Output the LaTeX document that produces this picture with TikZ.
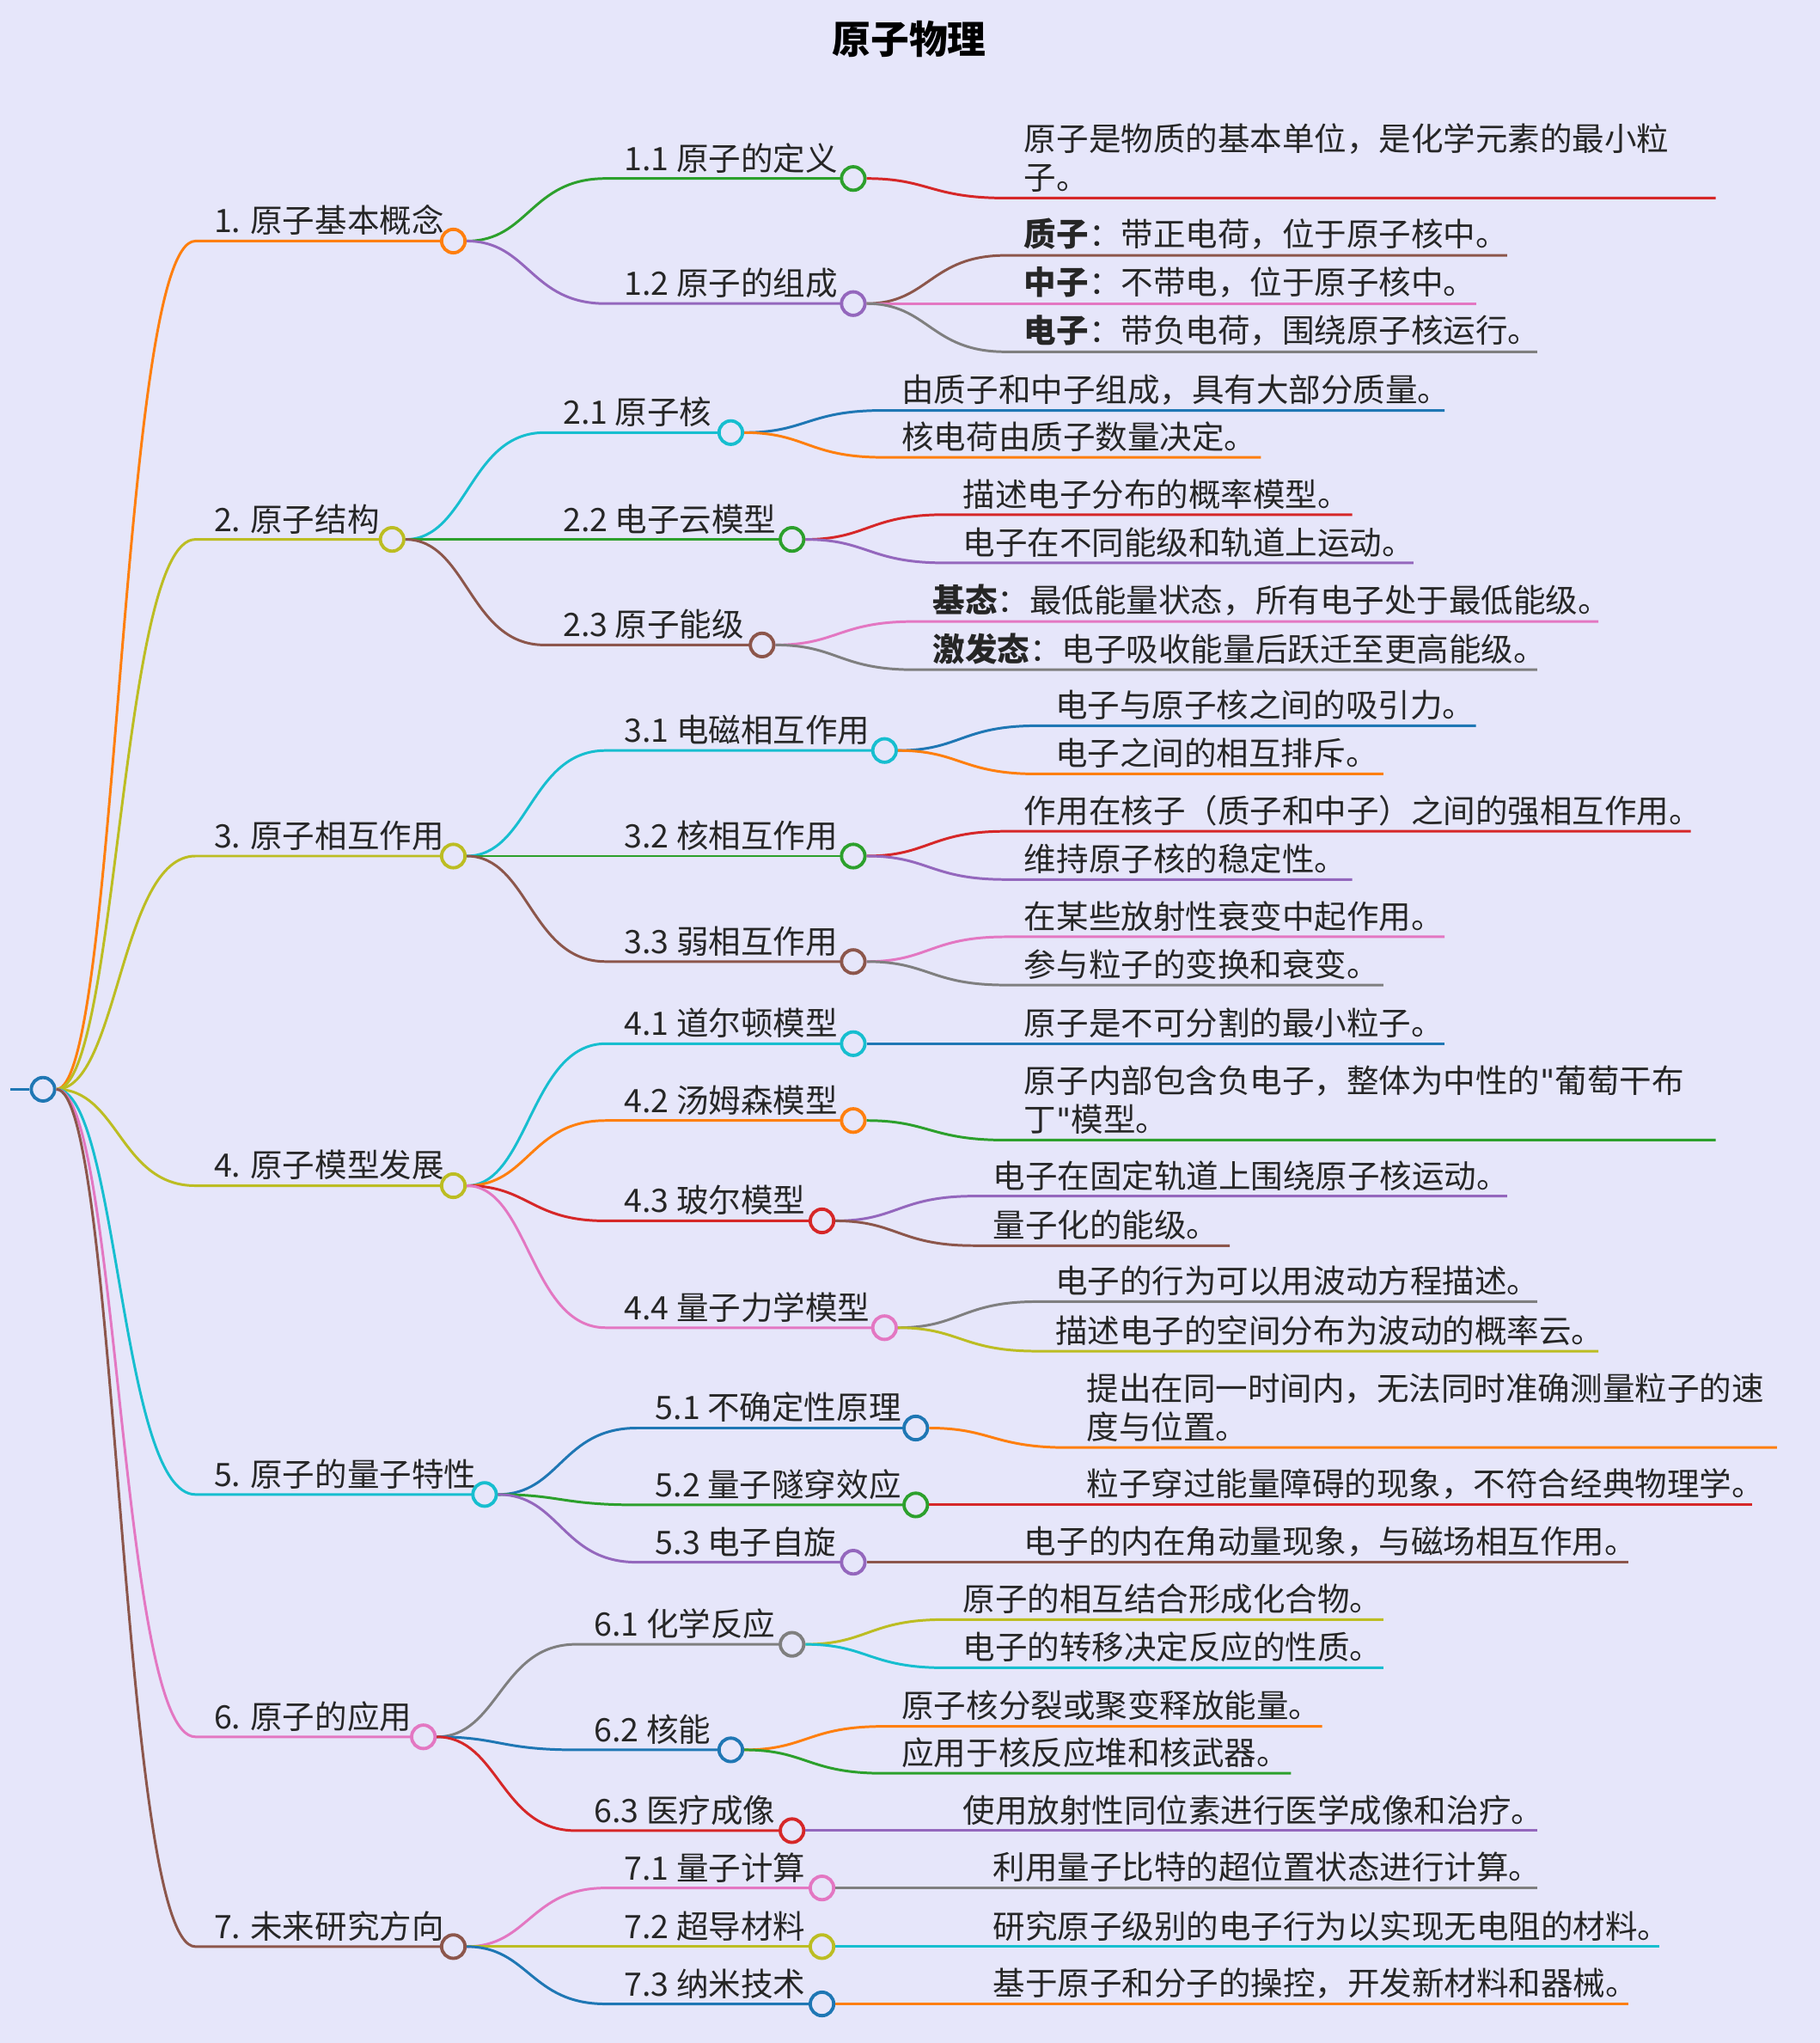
\documentclass[tikz,border=0pt]{standalone}
\usepackage{fontspec}
\setmainfont{Noto Sans CJK SC}
\newfontfamily\dejavu{DejaVu Sans}
\usetikzlibrary{positioning}
\usetikzlibrary{calc}

\definecolor{bgc}{HTML}{E6E6FA}
\definecolor{cblue}{HTML}{1F77B4}
\definecolor{corange}{HTML}{FF7F0E}
\definecolor{cgreen}{HTML}{2CA02C}
\definecolor{cred}{HTML}{D62728}
\definecolor{cpurple}{HTML}{9467BD}
\definecolor{cbrown}{HTML}{8C564B}
\definecolor{cpink}{HTML}{E377C2}
\definecolor{cgray}{HTML}{7F7F7F}
\definecolor{colive}{HTML}{BCBD22}
\definecolor{ccyan}{HTML}{17BECF}

\tikzset{
  edge/.style={line width=1.4pt},
  dot/.style={circle,fill=bgc,line width=1.8pt,minimum size=0.45cm,inner sep=0pt},
  lbl/.style={inner sep=0pt,anchor=south west,align=left,text=black!85,
              font=\fontsize{17.6}{21.3}\selectfont}
}

% branch with end circle: name, parent, colour, x start, y, x circle, text
\newcommand\mmtopic[7]{%
  \coordinate (#1-s) at (#4,#5);
  \draw[edge,#3] (#2) .. controls +(58,0) and +(-58,0) .. (#1-s) -- (#6,#5);
  \node[lbl] (#1-t) at ($(#4,#5)+(14,-4)$) {#7};
  \node[dot,draw=#3] (#1) at (#6,#5) {};
}
% leaf branch: name, parent, colour, x start, y, x end, text
\newcommand\mmleaf[7]{%
  \coordinate (#1-s) at (#4,#5);
  \coordinate (#1) at (#6,#5);
  \draw[edge,#3] (#2) .. controls +(58,0) and +(-58,0) .. (#1-s) -- (#1);
  \node[lbl] (#1-t) at ($(#4,#5)+(14,-4)$) {#7};
}
\newcommand\qt{{\dejavu\symbol{34}}}

\begin{document}
\begin{tikzpicture}[x=0.025cm,y=-0.025cm]
\fill[bgc] (0,0) rectangle (1397,1568);
\useasboundingbox (0,0) rectangle (1397,1568);

\node[font=\fontsize{21}{25}\selectfont\bfseries] (title) at (698,30) {原子物理};

\coordinate (stub) at (8,836);
\node[dot,draw=cblue] (root) at (33,836) {};
\draw[edge,cblue] (stub) -- (root);

% level 1
\mmtopic{a}{root}{corange}{150}{185}{348}{1. 原子基本概念}
\mmtopic{b}{root}{colive}{150}{414}{301}{2. 原子结构}
\mmtopic{c}{root}{colive}{150}{657}{348}{3. 原子相互作用}
\mmtopic{d}{root}{colive}{150}{910}{348}{4. 原子模型发展}
\mmtopic{e}{root}{ccyan}{150}{1147}{372}{5. 原子的量子特性}
\mmtopic{f}{root}{cpink}{150}{1333}{325}{6. 原子的应用}
\mmtopic{g}{root}{cbrown}{150}{1494}{348}{7. 未来研究方向}

% level 2
\mmtopic{a1}{a}{cgreen}{465}{137}{655}{1.1 原子的定义}
\mmtopic{a2}{a}{cpurple}{465}{233}{655}{1.2 原子的组成}
\mmtopic{b1}{b}{ccyan}{418}{332}{561}{2.1 原子核}
\mmtopic{b2}{b}{cgreen}{418}{414}{608}{2.2 电子云模型}
\mmtopic{b3}{b}{cbrown}{418}{495}{585}{2.3 原子能级}
\mmtopic{c1}{c}{ccyan}{465}{576}{679}{3.1 电磁相互作用}
\mmtopic{c2}{c}{cgreen}{465}{657}{655}{3.2 核相互作用}
\mmtopic{c3}{c}{cbrown}{465}{738}{655}{3.3 弱相互作用}
\mmtopic{d1}{d}{ccyan}{465}{801}{655}{4.1 道尔顿模型}
\mmtopic{d2}{d}{corange}{465}{860}{655}{4.2 汤姆森模型}
\mmtopic{d3}{d}{cred}{465}{937}{631}{4.3 玻尔模型}
\mmtopic{d4}{d}{cpink}{465}{1019}{679}{4.4 量子力学模型}
\mmtopic{e1}{e}{cblue}{489}{1096}{703}{5.1 不确定性原理}
\mmtopic{e2}{e}{cgreen}{489}{1155}{703}{5.2 量子隧穿效应}
\mmtopic{e3}{e}{cpurple}{489}{1199}{655}{5.3 电子自旋}
\mmtopic{f1}{f}{cgray}{442}{1262}{608}{6.1 化学反应}
\mmtopic{f2}{f}{cblue}{442}{1343}{561}{6.2 核能}
\mmtopic{f3}{f}{cred}{442}{1405}{608}{6.3 医疗成像}
\mmtopic{g1}{g}{cpink}{465}{1449}{631}{7.1 量子计算}
\mmtopic{g2}{g}{colive}{465}{1494}{631}{7.2 超导材料}
\mmtopic{g3}{g}{cblue}{465}{1538}{631}{7.3 纳米技术}

% level 3
\mmleaf{a1a}{a1}{cred}{772}{152}{1317}{原子是物质的基本单位，是化学元素的最小粒\\子。}
\mmleaf{a2a}{a2}{cbrown}{772}{196}{1157}{{\bfseries 质子}：带正电荷，位于原子核中。}
\mmleaf{a2b}{a2}{cpink}{772}{233}{1133}{{\bfseries 中子}：不带电，位于原子核中。}
\mmleaf{a2c}{a2}{cgray}{772}{270}{1180}{{\bfseries 电子}：带负电荷，围绕原子核运行。}
\mmleaf{b1a}{b1}{cblue}{678}{315}{1109}{由质子和中子组成，具有大部分质量。}
\mmleaf{b1b}{b1}{corange}{678}{351}{968}{核电荷由质子数量决定。}
\mmleaf{b2a}{b2}{cred}{725}{395}{1038}{描述电子分布的概率模型。}
\mmleaf{b2b}{b2}{cpurple}{725}{432}{1085}{电子在不同能级和轨道上运动。}
\mmleaf{b3a}{b3}{cpink}{702}{477}{1227}{{\bfseries 基态}：最低能量状态，所有电子处于最低能级。}
\mmleaf{b3b}{b3}{cgray}{702}{514}{1180}{{\bfseries 激发态}：电子吸收能量后跃迁至更高能级。}
\mmleaf{c1a}{c1}{cblue}{796}{557}{1133}{电子与原子核之间的吸引力。}
\mmleaf{c1b}{c1}{corange}{796}{594}{1062}{电子之间的相互排斥。}
\mmleaf{c2a}{c2}{cred}{772}{638}{1298}{作用在核子（质子和中子）之间的强相互作用。}
\mmleaf{c2b}{c2}{cpurple}{772}{675}{1038}{维持原子核的稳定性。}
\mmleaf{c3a}{c3}{cpink}{772}{719}{1109}{在某些放射性衰变中起作用。}
\mmleaf{c3b}{c3}{cgray}{772}{756}{1062}{参与粒子的变换和衰变。}
\mmleaf{d1a}{d1}{cblue}{772}{801}{1109}{原子是不可分割的最小粒子。}
\mmleaf{d2a}{d2}{cgreen}{772}{875}{1317}{原子内部包含负电子，整体为中性的\qt 葡萄干布\\丁\qt 模型。}
\mmleaf{d3a}{d3}{cpurple}{748}{918}{1157}{电子在固定轨道上围绕原子核运动。}
\mmleaf{d3b}{d3}{cbrown}{748}{956}{944}{量子化的能级。}
\mmleaf{d4a}{d4}{cgray}{796}{999}{1180}{电子的行为可以用波动方程描述。}
\mmleaf{d4b}{d4}{colive}{796}{1037}{1227}{描述电子的空间分布为波动的概率云。}
\mmleaf{e1a}{e1}{corange}{820}{1111}{1364}{提出在同一时间内，无法同时准确测量粒子的速\\度与位置。}
\mmleaf{e2a}{e2}{cred}{820}{1155}{1345}{粒子穿过能量障碍的现象，不符合经典物理学。}
\mmleaf{e3a}{e3}{cbrown}{772}{1199}{1250}{电子的内在角动量现象，与磁场相互作用。}
\mmleaf{f1a}{f1}{colive}{725}{1243}{1062}{原子的相互结合形成化合物。}
\mmleaf{f1b}{f1}{ccyan}{725}{1280}{1062}{电子的转移决定反应的性质。}
\mmleaf{f2a}{f2}{corange}{678}{1325}{1015}{原子核分裂或聚变释放能量。}
\mmleaf{f2b}{f2}{cgreen}{678}{1361}{991}{应用于核反应堆和核武器。}
\mmleaf{f3a}{f3}{cpurple}{725}{1405}{1180}{使用放射性同位素进行医学成像和治疗。}
\mmleaf{g1a}{g1}{cgray}{748}{1449}{1180}{利用量子比特的超位置状态进行计算。}
\mmleaf{g2a}{g2}{ccyan}{748}{1494}{1274}{研究原子级别的电子行为以实现无电阻的材料。}
\mmleaf{g3a}{g3}{corange}{748}{1538}{1250}{基于原子和分子的操控，开发新材料和器械。}
\end{tikzpicture}
\end{document}
